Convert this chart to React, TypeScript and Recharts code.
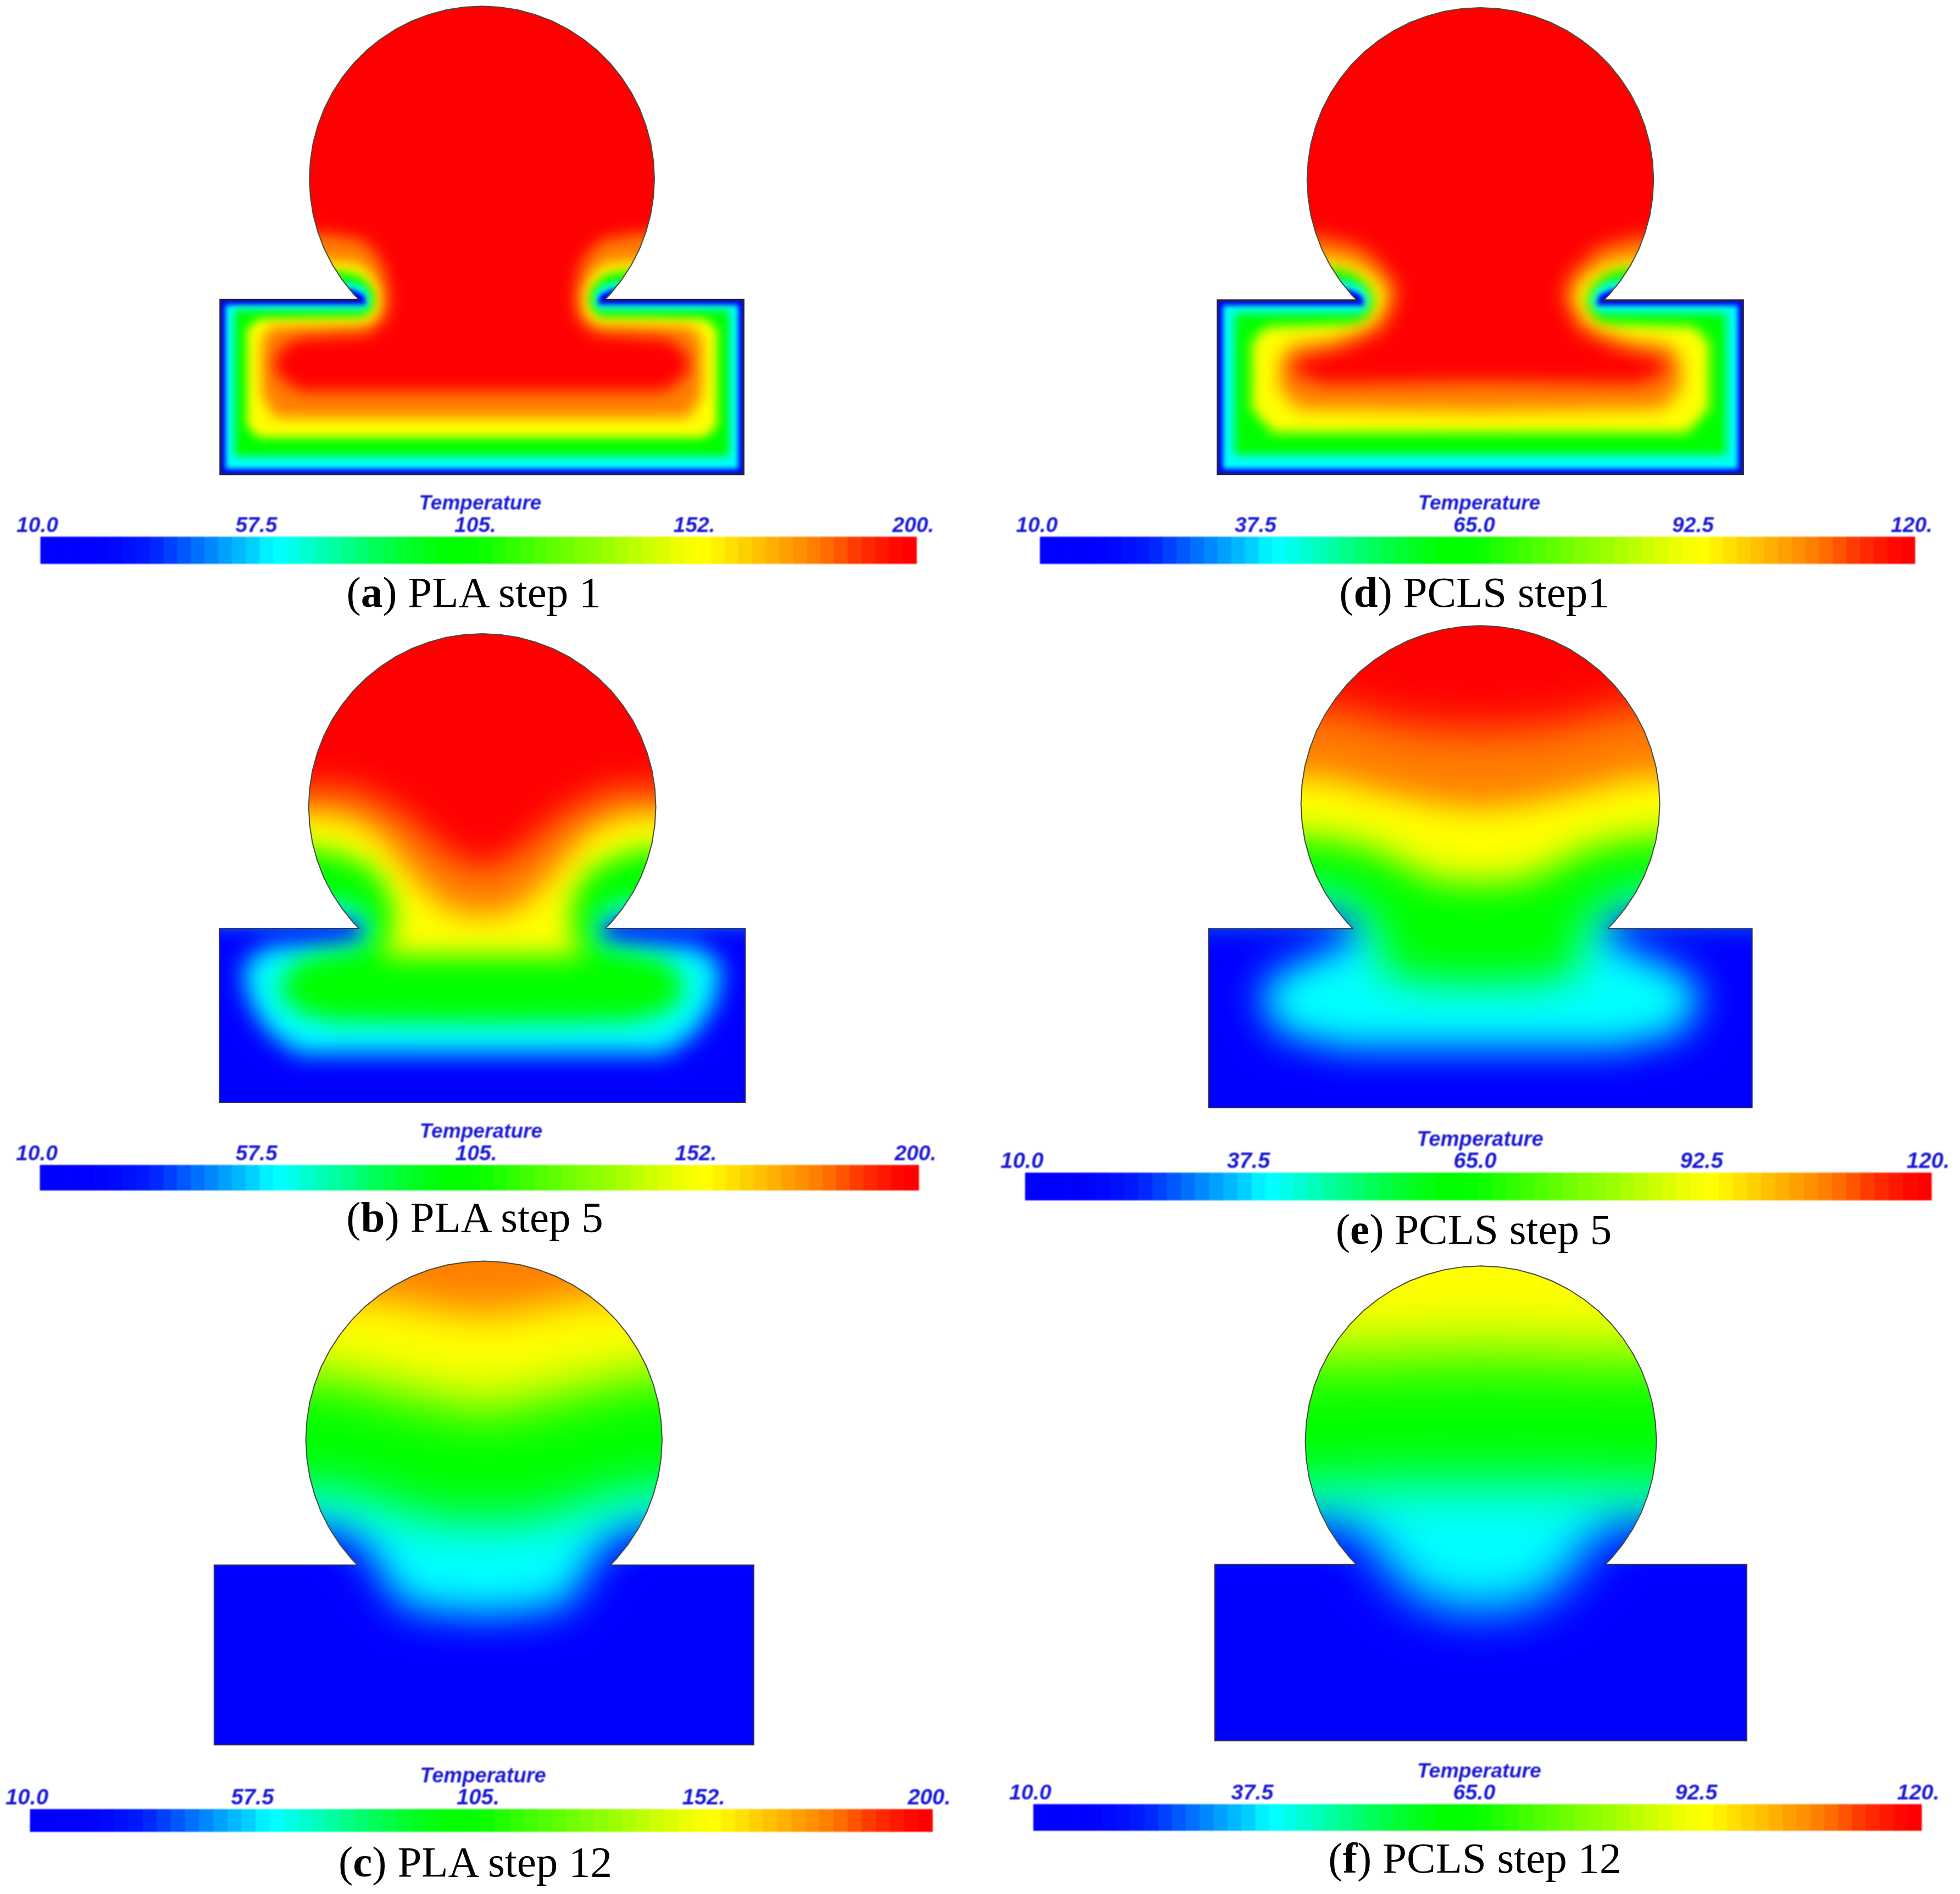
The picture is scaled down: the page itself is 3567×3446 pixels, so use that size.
import { Bar, BarChart, Curve, Scatter, ScatterChart, XAxis, YAxis } from "recharts";

// outline of the part, right half, top of the circle down to the rectangle
const outlineHalf = [
  [0, 374], [14.4, 373.2], [28.7, 371], [42.6, 367.2], [56.1, 362.1], [69, 355.5], [81.1, 347.6], [92.3, 338.6],
  [102.6, 328.3], [111.6, 317.1], [119.5, 305], [126.1, 292.1], [131.2, 278.6], [135, 264.7], [137.2, 250.4], [138, 236],
  [137.2, 221.6], [135, 207.3], [131.2, 193.4], [126.1, 179.9], [119.5, 167], [111.6, 154.9], [102.6, 143.7], [98, 139],
  [209, 139], [209, 0], [0, 0],
];
const rectRimHalf = [[98, 139], [209, 139], [209, 0], [0, 0]];

// temperature contours, right half. each region is T above the level
const plaStep1Cyan = [[315, 148], [104, 148], [94, 143], [92, 135], [100, 135], [205, 135], [205, 4], [0, 4]];
const plaStep1Green = [[315, 153], [107, 153], [94, 150], [89, 142], [89, 133], [94, 131], [198, 131], [198, 14], [0, 14]];
const plaStep1Yellow = [[315, 162], [112, 162], [98, 159], [88, 150], [85, 140], [87, 131], [94, 125], [178, 124], [188, 116], [188, 38], [178, 29], [0, 29]];
const plaStep1Orange = [[315, 170], [120, 170], [98, 168], [84, 155], [79, 140], [82, 125], [92, 119], [168, 118], [176, 108], [176, 62], [165, 45], [0, 45]];
const plaStep1Red = [[315, 192], [125, 192], [95, 187], [80, 170], [74, 145], [76, 125], [90, 112], [150, 108], [165, 95], [165, 80], [146, 66], [110, 66], [0, 66]];

const plaStep5Cyan = [[315, 146], [102, 146], [93, 142], [90, 134], [100, 127], [170, 125], [190, 110], [186, 82], [170, 56], [146, 39], [0, 39]];
const plaStep5Green = [[315, 160], [112, 160], [93, 150], [88, 140], [92, 125], [120, 120], [146, 114], [162, 94], [151, 74], [118, 65], [0, 64]];
const plaStep5Yellow = [[315, 203], [134, 202], [112, 198], [87, 186], [74, 168], [70, 150], [72, 130], [84, 117], [0, 117]];
const plaStep5Orange = [[315, 232], [118, 230], [85, 217], [55, 180], [30, 155], [0, 148]];
const plaStep5Red = [[315, 257], [100, 250], [60, 228], [30, 200], [0, 185]];

const plaStep12Cyan = [[315, 170], [115, 168], [88, 150], [78, 128], [60, 106], [0, 100]];
const plaStep12Green = [[315, 200], [125, 198], [85, 190], [58, 178], [0, 172]];
const plaStep12Yellow = [[315, 287], [125, 285], [58, 270], [0, 258]];
const plaStep12Orange = [[315, 345], [75, 345], [45, 338], [0, 332]];

const pclsStep1Cyan = [[315, 148], [104, 148], [94, 143], [92, 135], [100, 135], [205, 135], [205, 4], [0, 4]];
const pclsStep1Green = [[315, 155], [108, 155], [94, 151], [88, 143], [88, 132], [95, 129], [196, 129], [196, 15], [0, 15]];
const pclsStep1Yellow = [[315, 165], [114, 165], [100, 161], [88, 150], [84, 138], [88, 126], [98, 120], [170, 118], [182, 106], [182, 52], [165, 33], [0, 33]];
const pclsStep1Orange = [[315, 172], [120, 172], [100, 168], [84, 158], [74, 143], [78, 130], [92, 116], [120, 108], [150, 104], [160, 92], [160, 68], [145, 52], [0, 50]];
const pclsStep1Red = [[315, 190], [125, 190], [95, 182], [76, 165], [66, 150], [68, 135], [78, 115], [110, 100], [145, 92], [150, 82], [125, 72], [0, 74]];

const pclsStep5Cyan = [[315, 152], [108, 152], [94, 148], [90, 141], [100, 131], [119, 121], [147, 109], [162, 100], [170, 86], [155, 58], [105, 46], [0, 46]];
const pclsStep5Green = [[315, 168], [116, 166], [100, 160], [82, 145], [76, 126], [77, 106], [50, 98], [0, 96]];
const pclsStep5Yellow = [[315, 212], [119, 209], [80, 200], [49, 183], [30, 176], [0, 174]];
const pclsStep5Orange = [[315, 258], [119, 256], [77, 245], [35, 236], [0, 232]];
const pclsStep5Red = [[315, 318], [110, 310], [60, 296], [0, 292]];

const pclsStep12Cyan = [[315, 175], [114, 173], [98, 166], [82, 150], [68, 128], [40, 108], [0, 102]];
const pclsStep12Green = [[315, 201], [125, 201], [70, 203], [0, 203]];
const pclsStep12Yellow = [[315, 300], [100, 302], [0, 305]];

// colour scale of the legend bar, one entry per step
const scaleColors = [
  "#0000ff", "#0000ff", "#0000ff", "#0000ff", "#0004ff", "#0008ff", "#0010ff", "#0018ff",
  "#0028ff", "#0040ff", "#0058ff", "#0070ff", "#0088ff", "#00a0ff", "#00b8ff", "#00d0ff",
  "#00f0ff", "#00ffff", "#00ffe8", "#00ffd0", "#00ffb8", "#00ffa0", "#00ff88", "#00ff70",
  "#00ff58", "#00ff44", "#00ff30", "#00ff20", "#00ff10", "#00ff00", "#00ff00", "#04ff00",
  "#10ff00", "#20ff00", "#30ff00", "#40ff00", "#50ff00", "#60ff00", "#70ff00", "#80ff00",
  "#8cff00", "#9cff00", "#acff00", "#bcff00", "#ccff00", "#dcff00", "#ecff00", "#f8ff00",
  "#ffff00", "#fff000", "#ffe000", "#ffd000", "#ffc000", "#ffb000", "#ffa000", "#ff9000",
  "#ff8000", "#ff6c00", "#ff5400", "#ff3c00", "#ff2800", "#ff1800", "#ff0800", "#ff0000",
];
const scaleTicks = [0, 16, 32, 48, 64];
const plaLabels = ["10.0", "57.5", "105.", "152.", "200."];
const pclsLabels = ["10.0", "37.5", "65.0", "92.5", "120."];

const BLUE = "#0000ff";
const CYAN = "#00ffff";
const GREEN = "#00ff00";
const YELLOW = "#ffff00";
const ORANGE = "#ff8000";
const RED = "#ff0000";

const panels = [
  {
    id: "a", text: " PLA step 1", labels: plaLabels, box: [402, 1353, 11, 862], bar: [74, 1668, 977, 1026], capX: 862, capY: 1103,
    rim: "#20205c", rimWidth: 4.5,
    layers: [
      { half: plaStep1Cyan, color: CYAN, blur: 5 },
      { half: plaStep1Green, color: GREEN, blur: 8 },
      { half: plaStep1Yellow, color: YELLOW, blur: 9 },
      { half: plaStep1Orange, color: ORANGE, blur: 12 },
      { half: plaStep1Red, color: RED, blur: 14 },
    ],
  },
  {
    id: "b", text: " PLA step 5", labels: plaLabels, box: [399, 1356, 1153, 2006], bar: [73, 1672, 2120, 2166], capX: 864, capY: 2240,
    rim: "#303058", rimWidth: 2,
    layers: [
      { half: plaStep5Cyan, color: CYAN, blur: 22 },
      { half: plaStep5Green, color: GREEN, blur: 22 },
      { half: plaStep5Yellow, color: YELLOW, blur: 24 },
      { half: plaStep5Orange, color: ORANGE, blur: 26 },
      { half: plaStep5Red, color: RED, blur: 30 },
    ],
  },
  {
    id: "c", text: " PLA step 12", labels: plaLabels, box: [390, 1372, 2295, 3175], bar: [55, 1697, 3292, 3333], capX: 865, capY: 3413,
    rim: "#303058", rimWidth: 2,
    layers: [
      { half: plaStep12Cyan, color: CYAN, blur: 36 },
      { half: plaStep12Green, color: GREEN, blur: 44 },
      { half: plaStep12Yellow, color: YELLOW, blur: 49 },
      { half: plaStep12Orange, color: ORANGE, blur: 35 },
    ],
  },
  {
    id: "d", text: " PCLS step1", labels: pclsLabels, box: [2217, 3172, 14, 862], bar: [1893, 3485, 977, 1026], capX: 2683, capY: 1103,
    rim: "#20205c", rimWidth: 4.5,
    layers: [
      { half: pclsStep1Cyan, color: CYAN, blur: 5 },
      { half: pclsStep1Green, color: GREEN, blur: 9 },
      { half: pclsStep1Yellow, color: YELLOW, blur: 11 },
      { half: pclsStep1Orange, color: ORANGE, blur: 16 },
      { half: pclsStep1Red, color: RED, blur: 16 },
    ],
  },
  {
    id: "e", text: " PCLS step 5", labels: pclsLabels, box: [2200, 3189, 1138, 2015], bar: [1866, 3515, 2134, 2184], capX: 2682, capY: 2262,
    rim: "#303058", rimWidth: 2,
    layers: [
      { half: pclsStep5Cyan, color: CYAN, blur: 34 },
      { half: pclsStep5Green, color: GREEN, blur: 38 },
      { half: pclsStep5Yellow, color: YELLOW, blur: 32 },
      { half: pclsStep5Orange, color: ORANGE, blur: 28 },
      { half: pclsStep5Red, color: RED, blur: 40 },
    ],
  },
  {
    id: "f", text: " PCLS step 12", labels: pclsLabels, box: [2211, 3179, 2303, 3167], bar: [1881, 3497, 3283, 3331], capX: 2684, capY: 3406,
    rim: "#303058", rimWidth: 2,
    layers: [
      { half: pclsStep12Cyan, color: CYAN, blur: 44 },
      { half: pclsStep12Green, color: GREEN, blur: 50 },
      { half: pclsStep12Yellow, color: YELLOW, blur: 60 },
    ],
  },
];

// open rim path: from the left notch round the bottom to the right notch
function mirroredRim(half: number[][]) {
  const left = half.map(([x, y]) => ({ x: -x, y }));
  const right = [...half].reverse().map(([x, y]) => ({ x, y }));
  return [...left, ...right];
}

// contour regions run up off the part, the clip trims them to the outline
function closedRegion(half: number[][]) {
  const right = half.map(([x, y]) => ({ x, y }));
  const left = [...half].reverse().map(([x, y]) => ({ x: -x, y }));
  return [{ x: 0, y: 515 }, { x: 315, y: 515 }, ...right, ...left, { x: -315, y: 515 }];
}

function outlinePoints() {
  const right = outlineHalf.map(([x, y]) => ({ x, y }));
  const left = [...outlineHalf].reverse().map(([x, y]) => ({ x: -x, y }));
  return [...right, ...left];
}

const noDot = () => <g />;

function Field({ panel }: { panel: (typeof panels)[number] }) {
  const [l, r, t, b] = panel.box;
  const sx = (r - l) / 418;
  const sy = (b - t) / 374;
  const clipId = `part-${panel.id}`;
  const outline = outlinePoints();
  return (
    <div style={{ position: "absolute", left: l - 111 * sx, top: t - 146 * sy }}>
      <ScatterChart width={640 * sx} height={620 * sy} margin={{ top: 0, right: 0, bottom: 0, left: 0 }}>
        <XAxis type="number" dataKey="x" domain={[-320, 320]} hide />
        <YAxis type="number" dataKey="y" domain={[-100, 520]} hide />
        <Scatter
          data={outline}
          isAnimationActive={false}
          shape={noDot}
          line={(p: any) => (
            <g>
              <clipPath id={clipId}>
                <Curve type="linearClosed" points={p.points} />
              </clipPath>
              <Curve type="linearClosed" points={p.points} fill={BLUE} stroke="none" />
            </g>
          )}
        />
        {panel.layers.map((layer, i) => (
          <Scatter
            key={i}
            data={closedRegion(layer.half)}
            isAnimationActive={false}
            shape={noDot}
            line={(p: any) => (
              <g clipPath={`url(#${clipId})`}>
                <Curve
                  type="linearClosed"
                  points={p.points}
                  fill={layer.color}
                  stroke="none"
                  style={{ filter: `blur(${layer.blur}px)` }}
                />
              </g>
            )}
          />
        ))}
        <Scatter
          data={outline.slice(-24).concat(outline.slice(0, 24))}
          isAnimationActive={false}
          shape={noDot}
          line={(p: any) => (
            <Curve type="linear" points={p.points} fill="none" stroke="#4a4a40" strokeWidth={2} />
          )}
        />
        <Scatter
          data={mirroredRim(rectRimHalf)}
          isAnimationActive={false}
          shape={noDot}
          line={(p: any) => (
            <Curve type="linear" points={p.points} fill="none" stroke={panel.rim} strokeWidth={panel.rimWidth} />
          )}
        />
      </ScatterChart>
    </div>
  );
}

function ScaleBar({ panel }: { panel: (typeof panels)[number] }) {
  const [l, r, t, b] = panel.bar;
  const k = (r - l) / 1594;
  const row: Record<string, number | string> = { name: "scale" };
  scaleColors.forEach((_, i) => {
    row[`s${i}`] = 1;
  });
  return (
    <div style={{ position: "absolute", left: l - 60, top: t - 90, filter: "blur(1px)" }}>
      <BarChart
        width={r - l + 120}
        height={b - t + 90}
        data={[row]}
        layout="vertical"
        barCategoryGap={0}
        margin={{ top: 0, right: 60, bottom: 0, left: 60 }}
      >
        <XAxis
          type="number"
          orientation="top"
          domain={[0, 64]}
          ticks={scaleTicks}
          height={90}
          axisLine={false}
          tickLine={false}
          interval={0}
          tick={(p: any) => (
            <text
              x={p.x - 6}
              y={81}
              textAnchor="middle"
              fill="#1a1ad8"
              fontFamily="Liberation Sans"
              fontStyle="italic"
              fontWeight="bold"
              fontSize={39 * k}
            >
              {panel.labels[scaleTicks.indexOf(p.payload.value)]}
            </text>
          )}
          label={{
            value: "Temperature",
            position: "insideTop",
            offset: 14,
            dx: 3,
            fill: "#1a1ad8",
            fontFamily: "Liberation Sans",
            fontStyle: "italic",
            fontWeight: "bold",
            fontSize: 37 * k,
          }}
        />
        <YAxis type="category" dataKey="name" hide />
        {scaleColors.map((c, i) => (
          <Bar key={i} dataKey={`s${i}`} stackId="scale" isAnimationActive={false} fill={c} stroke={c} />
        ))}
      </BarChart>
    </div>
  );
}

export default function App() {
  return (
    <div
      style={{
        position: "absolute",
        left: 0,
        top: 0,
        width: 3567,
        height: 3446,
        overflow: "hidden",
        background: "#fff",
      }}
    >
      {panels.map((panel) => (
        <Field key={panel.id} panel={panel} />
      ))}
      {panels.map((panel) => (
        <ScaleBar key={panel.id} panel={panel} />
      ))}
      {panels.map((panel) => (
        <div
          key={panel.id}
          style={{
            position: "absolute",
            left: panel.capX - 400,
            width: 800,
            top: panel.capY - 70,
            height: 90,
            lineHeight: "90px",
            textAlign: "center",
            fontFamily: "Liberation Serif",
            fontSize: 79,
            color: "#000",
            whiteSpace: "pre",
          }}
        >
          (<b>{panel.id}</b>){panel.text}
        </div>
      ))}
    </div>
  );
}
